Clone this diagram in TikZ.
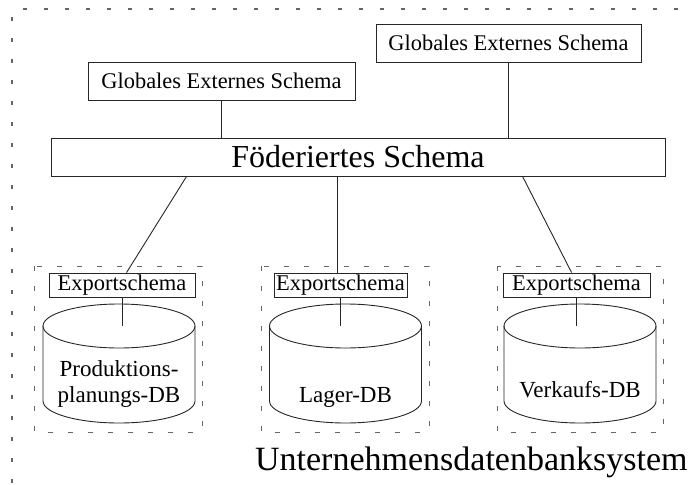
\documentclass[tikz,border=0pt]{standalone}
\usepackage{fontspec}
\setmainfont{Liberation Serif}
\begin{document}
\begin{tikzpicture}[x=1pt,y=-1pt,line width=0.9pt]
  % Local definitions
  \def\cylrx{76}
  \def\cylry{22}

  % Colors
  \colorlet{linegrey}{black!85}
  \colorlet{dashgrey}{black!60}

  % Styles
  \tikzstyle{schema box}=[draw=linegrey,inner sep=0pt,minimum height=38pt,font=\fontsize{22.4}{26}\selectfont]
  \tikzstyle{export box}=[draw=linegrey,inner sep=0pt,minimum height=24pt,font=\fontsize{22.5}{26}\selectfont]
  \tikzstyle{db text}=[inner sep=0pt,align=center,font=\fontsize{23}{26}\selectfont]
  \tikzstyle{frame line}=[dashgrey,line width=1.2pt,dash pattern=on 4pt off 17pt]
  \tikzstyle{site line}=[dashgrey,line width=1pt,dash pattern=on 5pt off 15pt]
  \tikzstyle{connector}=[linegrey]

  \useasboundingbox (0,0) rectangle (695,484);

  % The graphic
  \draw[style=frame line] (23,9) -- (695,9);
  \draw[style=frame line] (12,17) -- (12,484);

  \node[schema box,minimum width=265pt] (gs2) at (508.5,43) {Globales Externes Schema};
  \node[schema box,minimum width=267pt] (gs1) at (221.5,81) {Globales Externes Schema};
  \node[schema box,minimum width=614pt,font=\fontsize{32}{36}\selectfont] (fs) at (358,157) {Föderiertes Schema};

  \draw[style=connector] (gs1.south) -- (gs1.south |- fs.north);
  \draw[style=connector] (gs2.south) -- (gs2.south |- fs.north);

  % Local databases
  \foreach \l/\r in {34/202, 261/429, 497/663}
    \draw[style=site line] (\l,266) rectangle (\r,432);

  \foreach \cx in {119, 345.5, 580}
    {
      \draw[linegrey] (\cx,326) ellipse [x radius=\cylrx, y radius=\cylry];
      \draw[linegrey] (\cx-\cylrx,326) -- (\cx-\cylrx,401)
        arc[start angle=180,end angle=0,x radius=\cylrx,y radius=\cylry] -- (\cx+\cylrx,326);
    }

  \node[export box,minimum width=146pt] (ex1) at (122,285) {Exportschema};
  \node[export box,minimum width=133pt] (ex2) at (340.5,285) {Exportschema};
  \node[export box,minimum width=147pt] (ex3) at (576.5,285) {Exportschema};

  \node[db text] (db1) at (119,383.5) {Produktions-\\planungs-DB};
  \node[db text,anchor=base] (db2) at (345.5,402) {Lager-DB};
  \node[db text,anchor=base] (db3) at (580,397) {Verkaufs-DB};

  \coordinate (top1) at (119,326);
  \coordinate (top2) at (345.5,326);
  \coordinate (top3) at (580,326);

  \foreach \i in {1,2,3}
    \draw[style=connector] (ex\i.south) -- (ex\i.south |- top\i);

  \draw[style=connector] ([xshift=136pt]fs.south west) -- ([xshift=78pt]ex1.north west);
  \draw[style=connector] ([xshift=287pt]fs.south west) -- ([xshift=64pt]ex2.north west);
  \draw[style=connector] ([xshift=472pt]fs.south west) -- ([xshift=69pt]ex3.north west);

  \node[anchor=base east,inner sep=0pt,font=\fontsize{34}{40}\selectfont] (uds) at (688,470)
    {Unternehmensdatenbanksystem};
\end{tikzpicture}
\end{document}
